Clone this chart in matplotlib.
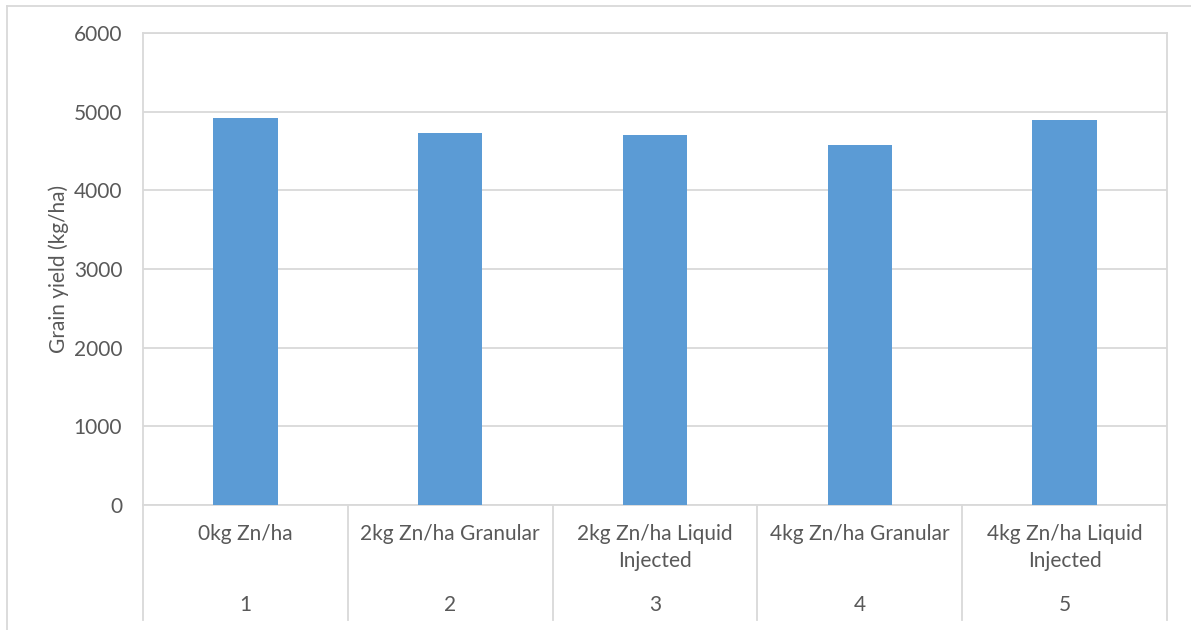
import matplotlib
matplotlib.use("Agg")
import matplotlib.pyplot as plt
from matplotlib.lines import Line2D
import matplotlib.transforms as mtransforms

treatments = ["0kg Zn/ha", "2kg Zn/ha Granular", "2kg Zn/ha Liquid\nInjected",
              "4kg Zn/ha Granular", "4kg Zn/ha Liquid\nInjected"]
numbers = ["1", "2", "3", "4", "5"]
grain_yield = [4920, 4730, 4705, 4575, 4898]
yticks = [0, 1000, 2000, 3000, 4000, 5000, 6000]

W, H = 1191, 630
bar_color = "#5B9BD5"
text_color = "#595959"
grid_color = "#D9D9D9"
fs = 15

plt.rcParams['font.family'] = ['Lato', 'DejaVu Sans']

fig = plt.figure(figsize=(W / 100, H / 100), dpi=100)
ax = fig.add_axes([143 / W, 1 - 505 / H, (1167 - 143) / W, (505 - 33) / H])

x = list(range(len(grain_yield)))
ax.bar(x, grain_yield, width=0.315, color=bar_color, zorder=3)

ax.set_xlim(-0.5, len(x) - 0.5)
ax.set_ylim(0, 6000)
ax.set_yticks(yticks)
ax.set_yticklabels([str(v) for v in yticks], fontsize=fs, color=text_color)
ax.tick_params(axis='y', length=0, pad=15)
ax.set_xticks([])
ax.grid(axis='y', color=grid_color, linewidth=1.3, zorder=0)
for s in ax.spines.values():
    s.set_color(grid_color)
    s.set_linewidth(1.3)
ax.set_ylabel("Grain yield (kg/ha)", fontsize=fs, color=text_color, labelpad=3)

# multi-level category axis below the plot
trans = mtransforms.blended_transform_factory(ax.transData, fig.transFigure)
y_top = 1 - 505 / H
y_bot = 1 - 620 / H
for b in range(len(x) + 1):
    fig.add_artist(Line2D([b - 0.5, b - 0.5], [y_bot, y_top], transform=trans,
                          color=grid_color, linewidth=1.3))
for i, (lab, num) in enumerate(zip(treatments, numbers)):
    fig.text(i, 1 - 524 / H, lab, transform=trans, ha='center', va='top',
             fontsize=fs, color=text_color, linespacing=1.45, multialignment='center')
    fig.text(i, 1 - 605 / H, num, transform=trans, ha='center', va='center',
             fontsize=fs, color=text_color)

# outer chart border
fig.add_artist(Line2D([7 / W, 7 / W], [0, 1 - 6 / H], transform=fig.transFigure,
                      color=grid_color, linewidth=1.3))
fig.add_artist(Line2D([7 / W, 1], [1 - 6 / H, 1 - 6 / H], transform=fig.transFigure,
                      color=grid_color, linewidth=1.3))

fig.savefig("out.png", dpi=100)
